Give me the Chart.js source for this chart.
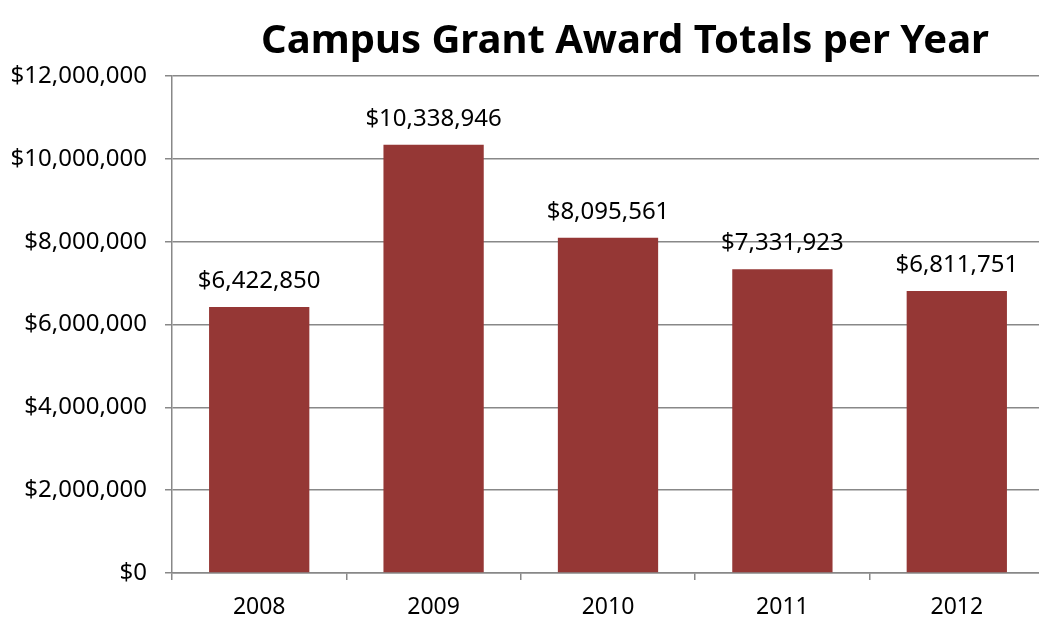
<!DOCTYPE html>
<html><head><meta charset="utf-8">
<script src="https://cdn.jsdelivr.net/npm/chart.js@4/dist/chart.umd.min.js"></script>
<style>html,body{margin:0;padding:0;background:#fff;overflow:hidden}#wrap{width:1044px;height:618px;position:relative}</style>
</head><body><div id="wrap"><canvas id="c" width="1044" height="618"></canvas></div>
<script>
const categories = ["2008","2009","2010","2011","2012"];
const awardTotals = [6422850, 10338946, 8095561, 7331923, 6811751];
const yTicks = [0, 2000000, 4000000, 6000000, 8000000, 10000000, 12000000];
const chartTitle = "Campus Grant Award Totals per Year";
const FONT = "'Noto Sans', sans-serif";
const fmt = v => "$" + v.toLocaleString("en-US");

const labelPlugin = {
  id: 'lbl',
  afterDatasetsDraw(chart) {
    const ctx = chart.ctx;
    const meta = chart.getDatasetMeta(0);
    ctx.save();
    ctx.font = "24px " + FONT;
    ctx.fillStyle = "#000";
    ctx.textAlign = "center";
    ctx.textBaseline = "middle";
    meta.data.forEach((bar, i) => {
      ctx.fillText(fmt(awardTotals[i]), bar.x, bar.y - 26);
    });
    ctx.font = "bold 40px " + FONT;
    ctx.fillText(chartTitle, 625, 42);
    ctx.restore();
  }
};

new Chart(document.getElementById('c'), {
  type: 'bar',
  data: { labels: categories, datasets: [{ data: awardTotals, backgroundColor: '#953735', barPercentage: 0.575, categoryPercentage: 1.0 }] },
  options: {
    responsive: false, animation: false,
    layout: { padding: { top: 76, left: 0, right: 0, bottom: 0 } },
    plugins: { legend: { display: false }, tooltip: { enabled: false } },
    scales: {
      x: {
        grid: { offset: true, drawOnChartArea: false, drawTicks: true, tickLength: 7, color: '#888', lineWidth: 1.5 },
        border: { color: '#888', width: 1.5 },
        ticks: { font: { family: FONT, size: 23 }, color: '#000', padding: 14 },
        afterFit(s) { s.height = 45; }
      },
      y: {
        min: 0, max: 12000000,
        afterBuildTicks(s) { s.ticks = yTicks.map(v => ({ value: v })); },
        grid: { color: '#888', lineWidth: 1.5, tickLength: 7 },
        border: { color: '#888', width: 1.5 },
        ticks: { font: { family: FONT, size: 24 }, color: '#000', padding: 18, callback: v => fmt(v) },
        afterFit(s) { s.width = 172; }
      }
    }
  },
  plugins: [labelPlugin]
});
</script></body></html>
